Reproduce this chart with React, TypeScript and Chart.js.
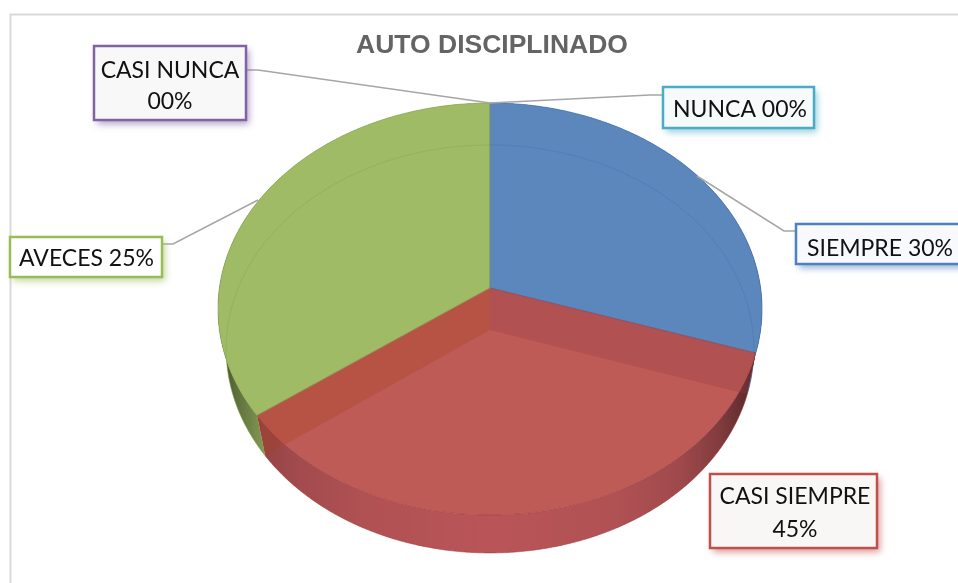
import React, { useEffect, useRef } from "react";
import Chart from "chart.js/auto";

const categories = ["SIEMPRE", "CASI SIEMPRE", "AVECES", "CASI NUNCA", "NUNCA"];
const sliceValues = [30, 35, 35, 0, 0];
const percentTexts = ["30%", "45%", "25%", "00%", "00%"];
const titleText = "AUTO DISCIPLINADO";

const faceColors = ["#5b87bd", "#bf5b56", "#a0bb65", "#8064a2", "#4bacc6"];
const wallColors = ["#4f7fb8", "#b95558", "#a0bb65", "#8064a2", "#4bacc6"];
const edgeColors = ["rgba(70,115,175,0.7)", "rgba(165,60,58,0.6)", "rgba(135,165,80,0.6)", "#8064a2", "#4bacc6"];
const ringColors = ["rgba(70,115,175,0.4)", "rgba(0,0,0,0)", "rgba(130,165,75,0.4)", "#8064a2", "#4bacc6"];

const TOP = { x: 490, y: 288, a: 203.9, b: 270.6, c: -0.102 };
const BOT = { x: 490, y: 330, a: 202.2, b: 262.7, c: -0.093 };
type G = typeof TOP;
const pt = (g: G, ang: number): [number, number] => {
  const u = Math.cos(ang), v = Math.sin(ang), d = 1 + g.c * v;
  return [g.x + (g.b * u) / d, g.y + (g.a * v) / d];
};
const STEP = Math.PI / 360;
const arcPoints = (g: G, s: number, e: number) => {
  const out: [number, number][] = [];
  const n = Math.max(2, Math.ceil((e - s) / STEP));
  for (let i = 0; i <= n; i++) out.push(pt(g, s + ((e - s) * i) / n));
  return out;
};
const trace = (ctx: CanvasRenderingContext2D, pts: [number, number][], move = true) => {
  pts.forEach((p, i) => (i === 0 && move ? ctx.moveTo(p[0], p[1]) : ctx.lineTo(p[0], p[1])));
};
const slicePath = (ctx: CanvasRenderingContext2D, g: G, s: number, e: number) => {
  ctx.beginPath();
  ctx.moveTo(g.x, g.y);
  trace(ctx, arcPoints(g, s, e), false);
  ctx.closePath();
};

const boxes = [
  { i: 0, x: 796, y: 224, w: 170, h: 40, color: "#4f81bd", fill: "#f7f9fc", lines: [[880, 256]], wrap: false, leader: [[697, 176], [784, 231], [796, 231]] },
  { i: 1, x: 710, y: 474, w: 167, h: 74, color: "#c0504d", fill: "#f8f7f6", lines: [[795, 504], [795, 537]], wrap: true, leader: [] },
  { i: 2, x: 10, y: 237, w: 152, h: 40, color: "#9bbb59", fill: "#ffffff", lines: [[86.5, 266]], wrap: false, leader: [[162, 244], [173, 244], [258, 200]] },
  { i: 3, x: 94, y: 46, w: 152, h: 74, color: "#8064a2", fill: "#f8f8f8", lines: [[170, 78], [170, 109]], wrap: true, leader: [[246, 70], [258, 70], [490, 103]] },
  { i: 4, x: 663, y: 87, w: 151, h: 41, color: "#4bacc6", fill: "#f6fafb", lines: [[740, 117]], wrap: false, leader: [[490, 103], [650, 95], [663, 95]] },
];

const pie3d = {
  id: "pie3d",
  beforeDraw(chart: any) {
    const c = chart.ctx;
    c.save();
    c.strokeStyle = "#d9d9d9";
    c.lineWidth = 2;
    c.strokeRect(10.5, 14.5, 1000, 700);
    c.restore();
  },
  beforeDatasetsDraw(chart: any) {
    const c: CanvasRenderingContext2D = chart.ctx;
    const arcs = chart.getDatasetMeta(0).data;
    c.save();
    // walls
    const shade = c.createLinearGradient(218, 0, 762, 0);
    const stops: [number, number][] = [[218, 0.62], [235, 0.42], [262, 0.2], [300, 0.12], [360, 0.05], [490, 0], [620, 0.05], [680, 0.14], [720, 0.3], [745, 0.48], [762, 0.65]];
    stops.forEach(([x, al]) => shade.addColorStop((x - 218) / 544, `rgba(0,0,0,${al})`));
    arcs.forEach((arc: any, i: number) => {
      if (arc.endAngle - arc.startAngle < 1e-6) return;
      c.beginPath();
      trace(c, arcPoints(TOP, arc.startAngle, arc.endAngle));
      trace(c, arcPoints(BOT, arc.startAngle, arc.endAngle).reverse(), false);
      c.closePath();
      c.fillStyle = wallColors[i];
      c.fill();
      c.fillStyle = shade;
      c.fill();
      c.beginPath();
      trace(c, arcPoints(BOT, arc.startAngle, arc.endAngle));
      c.strokeStyle = edgeColors[i];
      c.lineWidth = 1;
      c.stroke();
    });
    // faces
    arcs.forEach((arc: any) => {
      if (arc.endAngle - arc.startAngle < 1e-6) return;
      slicePath(c, TOP, arc.startAngle, arc.endAngle);
      c.fillStyle = arc.options.backgroundColor;
      c.fill();
    });
    // see-through cut planes of the front slice
    const front = arcs[1];
    const quad = (ang: number, color: string) => {
      const a = pt(TOP, ang), b = pt(BOT, ang);
      c.beginPath();
      c.moveTo(TOP.x, TOP.y);
      c.lineTo(a[0], a[1]);
      c.lineTo(b[0], b[1]);
      c.lineTo(BOT.x, BOT.y);
      c.closePath();
      c.fillStyle = color;
      c.fill();
    };
    quad(front.startAngle, "rgba(150,60,70,0.3)");
    quad(front.endAngle, "rgba(165,65,30,0.3)");
    // inner ring seen through the back slices
    arcs.forEach((arc: any, i: number) => {
      if (arc.endAngle - arc.startAngle < 1e-6 || i === 1) return;
      c.save();
      slicePath(c, TOP, arc.startAngle, arc.endAngle);
      c.clip();
      c.beginPath();
      trace(c, arcPoints(BOT, arc.startAngle - 0.3, arc.endAngle + 0.3));
      c.strokeStyle = ringColors[i];
      c.lineWidth = 1;
      c.stroke();
      c.restore();
    });
    // edges
    arcs.forEach((arc: any, i: number) => {
      if (arc.endAngle - arc.startAngle < 1e-6) return;
      slicePath(c, TOP, arc.startAngle, arc.endAngle);
      c.strokeStyle = edgeColors[i];
      c.lineWidth = 1;
      c.stroke();
    });
    // leaders
    c.strokeStyle = "#a6a6a6";
    c.lineWidth = 1.5;
    boxes.forEach((b) => {
      if (!b.leader.length) return;
      c.beginPath();
      b.leader.forEach((p, k) => (k ? c.lineTo(p[0], p[1]) : c.moveTo(p[0], p[1])));
      c.stroke();
    });
    // data labels
    boxes.forEach((b) => {
      c.save();
      c.shadowColor = b.color + "99";
      c.shadowBlur = 7;
      c.shadowOffsetX = 3;
      c.shadowOffsetY = 4;
      c.fillStyle = b.fill;
      c.fillRect(b.x, b.y, b.w, b.h);
      c.restore();
      c.strokeStyle = b.color;
      c.lineWidth = 2.5;
      c.strokeRect(b.x, b.y, b.w, b.h);
      c.fillStyle = "#111111";
      c.font = "23px Lato";
      c.textAlign = "center";
      c.textBaseline = "alphabetic";
      const name = categories[b.i], pct = percentTexts[b.i];
      const texts = b.wrap ? [name, pct] : [name + " " + pct];
      texts.forEach((t, k) => c.fillText(t, b.lines[k][0], b.lines[k][1]));
    });
    c.restore();
    return false;
  },
};

export default function App() {
  const ref = useRef<HTMLCanvasElement>(null);
  useEffect(() => {
    document.body.style.margin = "0";
    const chart = new Chart(ref.current!, {
      type: "pie",
      data: {
        labels: categories,
        datasets: [{ data: sliceValues, backgroundColor: faceColors, borderWidth: 0 }],
      },
      options: {
        animation: false,
        responsive: false,
        layout: { padding: { left: 26 } },
        plugins: {
          legend: { display: false },
          tooltip: { enabled: false },
          title: {
            display: true,
            text: titleText,
            color: "#646464",
            font: { family: "'Liberation Sans'", size: 26.5, weight: "bold" },
            padding: { top: 30, bottom: 10 },
          },
        },
      },
      plugins: [pie3d],
    } as any);
    return () => chart.destroy();
  }, []);
  return <canvas ref={ref} width={958} height={583} style={{ display: "block" }} />;
}
